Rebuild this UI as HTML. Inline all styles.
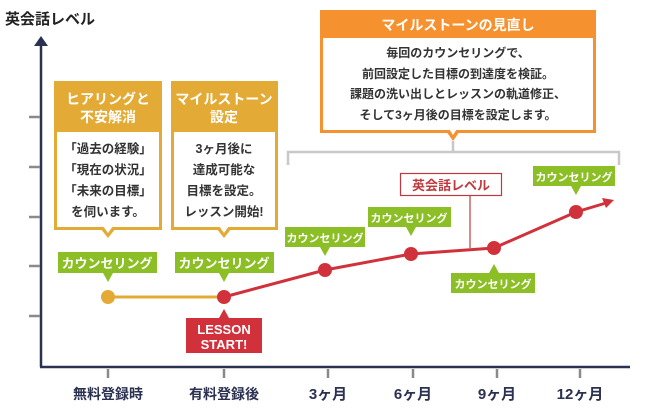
<!DOCTYPE html>
<html><head><meta charset="utf-8"><style>
body{margin:0;background:#fff;}
svg{display:block;font-family:"Liberation Sans","Noto Sans CJK JP",sans-serif;font-weight:bold;}
</style></head><body>
<svg width="646" height="412" viewBox="0 0 646 412">
<text x="5" y="24" font-size="15" fill="#222">英会話レベル</text>
<!-- axes -->
<line x1="41" y1="44" x2="41" y2="367" stroke="#2b3150" stroke-width="2.5"/>
<polygon points="41,36 34,46 48,46" fill="#2b3150"/>
<line x1="40" y1="367" x2="630" y2="367" stroke="#2b3150" stroke-width="2.5"/>
<g stroke="#8a8a8a" stroke-width="2.5">
<line x1="29" y1="117" x2="40" y2="117"/><line x1="29" y1="167" x2="40" y2="167"/><line x1="29" y1="217" x2="40" y2="217"/><line x1="29" y1="266" x2="40" y2="266"/><line x1="29" y1="316" x2="40" y2="316"/>
<line x1="108" y1="369" x2="108" y2="378"/><line x1="224" y1="369" x2="224" y2="378"/><line x1="328" y1="369" x2="328" y2="378"/><line x1="413" y1="369" x2="413" y2="378"/><line x1="497" y1="369" x2="497" y2="378"/><line x1="580" y1="369" x2="580" y2="378"/>
</g>
<g font-size="14" fill="#2b3150" text-anchor="middle">
<text x="108" y="399">無料登録時</text><text x="224" y="399">有料登録後</text><text x="328" y="399" font-size="15">3ヶ月</text><text x="413" y="399" font-size="15">6ヶ月</text><text x="497" y="399" font-size="15">9ヶ月</text><text x="580" y="399" font-size="15">12ヶ月</text>
</g>
<!-- line -->
<line x1="108" y1="297" x2="224" y2="297" stroke="#e3ab35" stroke-width="3"/>
<polyline points="224,297 325,270 411,254 494,248 576,212 606,203" fill="none" stroke="#d1313b" stroke-width="3"/>
<polygon points="614,200 602,198 606,208" fill="#d1313b"/>
<circle cx="108" cy="297" r="7" fill="#e3ab35"/>
<g fill="#d1313b"><circle cx="224" cy="297" r="7"/><circle cx="325" cy="270" r="7"/><circle cx="411" cy="254" r="7"/><circle cx="494" cy="248" r="7"/><circle cx="576" cy="212" r="7"/></g>
<!-- green labels -->
<g fill="#8cbf26">
<rect x="58" y="252" width="99" height="21"/><polygon points="103,273 113,273 108,282"/>
<rect x="175" y="252" width="99" height="21"/><polygon points="219,273 229,273 224,282"/>
<rect x="285" y="227" width="80" height="20"/><polygon points="320,247 330,247 325,256"/>
<rect x="368" y="207" width="83" height="20"/><polygon points="406,227 416,227 411,236"/>
<rect x="451" y="273" width="84" height="20"/><polygon points="489,273 499,273 494,264"/>
<rect x="533" y="166" width="82" height="20"/><polygon points="571,186 581,186 576,195"/>
</g>
<g fill="#fff" text-anchor="middle">
<text x="107" y="268" font-size="13">カウンセリング</text>
<text x="224" y="268" font-size="13">カウンセリング</text>
<text x="325" y="242" font-size="11">カウンセリング</text>
<text x="409" y="222" font-size="11">カウンセリング</text>
<text x="493" y="288" font-size="11">カウンセリング</text>
<text x="574" y="181" font-size="11">カウンセリング</text>
</g>
<!-- lesson start -->
<rect x="186" y="318" width="76" height="35" fill="#d1313b"/><polygon points="219,318 229,318 224,309" fill="#d1313b"/>
<text x="224" y="334" font-size="13" fill="#fff" text-anchor="middle">LESSON</text>
<text x="224" y="349" font-size="13" fill="#fff" text-anchor="middle">START!</text>
<!-- yellow boxes -->
<g>
<rect x="55.5" y="82.5" width="105" height="146" fill="#fff" stroke="#e3ab35" stroke-width="3"/>
<rect x="54" y="81" width="108" height="51" fill="#e3ab35"/>
<polygon points="100,228 116,228 108,238" fill="#e3ab35"/><polygon points="103,226 113,226 108,233" fill="#fff"/>
<rect x="172.5" y="82.5" width="104" height="146" fill="#fff" stroke="#e3ab35" stroke-width="3"/>
<rect x="171" y="81" width="107" height="51" fill="#e3ab35"/>
<polygon points="216,228 232,228 224,238" fill="#e3ab35"/><polygon points="219,226 229,226 224,233" fill="#fff"/>
</g>
<g font-size="14" fill="#fff" text-anchor="middle">
<text x="108" y="104">ヒアリングと</text><text x="108" y="122">不安解消</text>
<text x="224" y="104">マイルストーン</text><text x="224" y="122">設定</text>
</g>
<g font-size="12.5" fill="#333" text-anchor="middle">
<text x="108" y="153">「過去の経験」</text><text x="108" y="174">「現在の状況」</text><text x="108" y="195">「未来の目標」</text><text x="108" y="216">を伺います。</text>
<text x="224" y="153">3ヶ月後に</text><text x="224" y="174">達成可能な</text><text x="224" y="195">目標を設定。</text><text x="224" y="216">レッスン開始!</text>
</g>
<!-- orange box -->
<rect x="321.5" y="11.5" width="273" height="120" fill="#fff" stroke="#f5922f" stroke-width="3"/>
<rect x="320" y="10" width="276" height="28" fill="#f5922f"/>
<polygon points="446,131 460,131 453,141" fill="#f5922f"/><polygon points="449,129 457,129 453,135" fill="#fff"/>
<text x="458" y="30" font-size="14" fill="#fff" text-anchor="middle">マイルストーンの見直し</text>
<g font-size="12" fill="#333" text-anchor="middle">
<text x="458" y="57">毎回のカウンセリングで、</text>
<text x="458" y="78">前回設定した目標の到達度を検証。</text>
<text x="458" y="98">課題の洗い出しとレッスンの軌道修正、</text>
<text x="458" y="119">そして3ヶ月後の目標を設定します。</text>
</g>
<!-- bracket -->
<path d="M288,165 V152 H619 V165 M453,141 V152" fill="none" stroke="#c8c8c8" stroke-width="2.5"/>
<!-- level label -->
<rect x="400.5" y="173.5" width="101" height="22" fill="#fff" stroke="#c0393f" stroke-width="1.2"/>
<line x1="470" y1="196" x2="470" y2="248" stroke="#c0393f" stroke-width="1.2"/>
<text x="451" y="190" font-size="13" fill="#c0393f" text-anchor="middle">英会話レベル</text>
</svg>
</body></html>
